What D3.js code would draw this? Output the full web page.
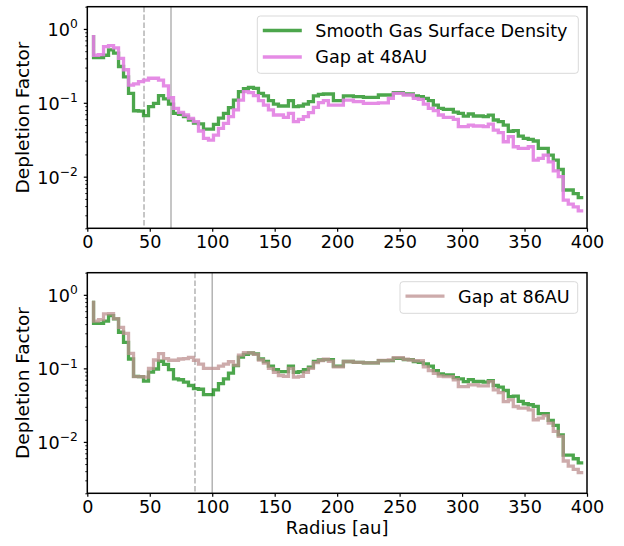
<!DOCTYPE html>
<html>
<head>
<meta charset="utf-8">
<script src="https://cdn.jsdelivr.net/npm/d3@7"></script>
<style>
  body { margin: 0; background: #fff; }
  text { font-family: "DejaVu Sans", sans-serif; fill: #000; }
</style>
</head>
<body>
<div id="chart"></div>
<script>
// radial bin positions [au]
var radius = [5, 9, 13, 17, 21, 25, 29, 33, 37, 41, 45, 49, 53, 57, 61, 65, 69, 73, 77, 81,
  85, 89, 93, 97, 101, 105, 109, 113, 117, 121, 125, 129, 133, 137, 141, 145, 149, 153, 157, 161,
  165, 169, 173, 177, 181, 185, 189, 193, 197, 201, 205, 209, 213, 217, 221, 225, 229, 233, 237, 241,
  245, 249, 253, 257, 261, 265, 269, 273, 277, 281, 285, 289, 293, 297, 301, 305, 309, 313, 317, 321,
  325, 329, 333, 337, 341, 345, 349, 353, 357, 361, 365, 369, 373, 377, 381, 385, 389, 393, 397];

var smooth = [0.83, 0.41, 0.41, 0.44, 0.52, 0.47, 0.31, 0.225, 0.134, 0.078, 0.077, 0.067, 0.089, 0.098, 0.125, 0.113, 0.096, 0.072, 0.070, 0.065,
  0.0585, 0.053, 0.052, 0.044, 0.044, 0.051, 0.062, 0.072, 0.086, 0.109, 0.142, 0.155, 0.162, 0.157, 0.134, 0.124, 0.107, 0.096, 0.0905, 0.0905,
  0.107, 0.0886, 0.0905, 0.096, 0.104, 0.124, 0.130, 0.1316, 0.1316, 0.107, 0.107, 0.124, 0.124, 0.121, 0.121, 0.1186, 0.1186, 0.1186, 0.1276, 0.1276,
  0.1276, 0.137, 0.137, 0.1316, 0.1316, 0.124, 0.121, 0.115, 0.107, 0.0933, 0.0841, 0.0816, 0.0816, 0.075, 0.072, 0.066, 0.0705, 0.0663, 0.0663, 0.0649,
  0.068, 0.0585, 0.0555, 0.050, 0.0412, 0.042, 0.0355, 0.033, 0.032, 0.0304, 0.0242, 0.0242, 0.0196, 0.0168, 0.0125, 0.0066, 0.0066, 0.0059, 0.0052];

var gap48 = [0.83, 0.44, 0.45, 0.575, 0.595, 0.555, 0.40, 0.28, 0.174, 0.18, 0.193, 0.203, 0.215, 0.215, 0.203, 0.17, 0.117, 0.084, 0.0743, 0.0684,
  0.0616, 0.0555, 0.0415, 0.033, 0.0313, 0.0366, 0.045, 0.0527, 0.065, 0.080, 0.109, 0.1416, 0.137, 0.125, 0.107, 0.0933, 0.080, 0.0684, 0.0684, 0.0636,
  0.072, 0.0555, 0.0597, 0.0649, 0.0735, 0.0868, 0.1004, 0.107, 0.0933, 0.0933, 0.0933, 0.109, 0.109, 0.104, 0.104, 0.098, 0.098, 0.098, 0.100, 0.100,
  0.115, 0.134, 0.134, 0.1276, 0.1276, 0.115, 0.1114, 0.096, 0.0841, 0.0782, 0.0684, 0.0636, 0.0636, 0.0597, 0.0475, 0.0475, 0.050, 0.0485, 0.0485, 0.0475,
  0.0516, 0.0428, 0.0394, 0.0297, 0.0348, 0.0254, 0.0242, 0.0242, 0.0254, 0.0168, 0.0177, 0.0196, 0.0159, 0.0120, 0.0100, 0.0048, 0.00425, 0.0039, 0.00345];

var gap86 = [0.83, 0.44, 0.46, 0.55, 0.553, 0.474, 0.36, 0.30, 0.16, 0.077, 0.077, 0.076, 0.10, 0.13, 0.159, 0.136, 0.129, 0.129, 0.134, 0.136,
  0.141, 0.129, 0.114, 0.10, 0.10, 0.10, 0.107, 0.114, 0.123, 0.111, 0.151, 0.163, 0.162, 0.155, 0.13, 0.118, 0.10, 0.088, 0.08, 0.078,
  0.100, 0.076, 0.078, 0.088, 0.10, 0.12, 0.128, 0.133, 0.125, 0.105, 0.105, 0.124, 0.124, 0.121, 0.121, 0.1186, 0.1186, 0.1186, 0.128, 0.128,
  0.13, 0.14, 0.14, 0.133, 0.13, 0.127, 0.127, 0.105, 0.0929, 0.0855, 0.0787, 0.0771, 0.0771, 0.070, 0.0565, 0.0565, 0.0595, 0.0595, 0.0577, 0.0577,
  0.066, 0.0509, 0.0469, 0.0354, 0.0373, 0.0303, 0.0288, 0.0288, 0.0273, 0.020, 0.0211, 0.0227, 0.018, 0.0139, 0.0119, 0.0055, 0.00469, 0.00422, 0.00381];

var xTicks = [0, 50, 100, 150, 200, 250, 300, 350, 400];
var yTicks = [1, 0.1, 0.01];
var yTickExp = ["0", "\u22121", "\u22122"];
var yMinor = [0.002, 0.003, 0.004, 0.005, 0.006, 0.007, 0.008, 0.009,
  0.02, 0.03, 0.04, 0.05, 0.06, 0.07, 0.08, 0.09,
  0.2, 0.3, 0.4, 0.5, 0.6, 0.7, 0.8, 0.9, 2];

var width = 624, height = 546;
var left = 87.3, right = 587;
var fs = 17.6;

var svg = d3.select("#chart").append("svg")
  .attr("width", width)
  .attr("height", height);

var x = d3.scaleLinear().domain([0, 400]).range([left, right]);

function drawPanel(top, bottom, series, vlines, legend) {
  var y = d3.scaleLog().domain([0.002, 2]).range([bottom, top]);
  var g = svg.append("g");

  // vertical marker lines
  vlines.forEach(function(v) {
    g.append("line")
      .attr("x1", x(v.r)).attr("x2", x(v.r))
      .attr("y1", top).attr("y2", bottom)
      .attr("stroke", "#808080")
      .attr("stroke-opacity", 0.6)
      .attr("stroke-width", 1.5)
      .attr("stroke-dasharray", v.dash ? "5.5,2.4" : null);
  });

  var line = d3.line()
    .x(function(d) { return x(d[0]); })
    .y(function(d) { return y(d[1]); })
    .curve(d3.curveStepBefore);

  series.forEach(function(s) {
    g.append("path")
      .datum(d3.zip(radius, s.values))
      .attr("d", line)
      .attr("fill", "none")
      .attr("stroke", s.color)
      .attr("stroke-opacity", s.alpha)
      .attr("stroke-width", 3.3);
  });

  // x axis
  var xa = g.append("g")
    .attr("transform", "translate(0," + bottom + ")")
    .call(d3.axisBottom(x).tickValues(xTicks).tickSize(3.5).tickPadding(3.5));
  xa.select(".domain").remove();
  xa.selectAll("line").attr("stroke", "#000").attr("stroke-width", 1.2);
  xa.selectAll("text").style("font-size", fs + "px").attr("font-family", "DejaVu Sans");

  // y axis major + minor
  var ya = g.append("g")
    .attr("transform", "translate(" + left + ",0)")
    .call(d3.axisLeft(y).tickValues(yTicks).tickSize(3.5).tickFormat(""));
  ya.select(".domain").remove();
  ya.selectAll("line").attr("stroke", "#000").attr("stroke-width", 1.2);

  var ym = g.append("g")
    .attr("transform", "translate(" + left + ",0)")
    .call(d3.axisLeft(y).tickValues(yMinor).tickSize(2).tickFormat(""));
  ym.select(".domain").remove();
  ym.selectAll("line").attr("stroke", "#000").attr("stroke-width", 0.9);

  yTicks.forEach(function(t, i) {
    var tx = g.append("text")
      .attr("x", left - 9.5)
      .attr("y", y(t) + 7)
      .attr("text-anchor", "end")
      .style("font-size", fs + "px");
    tx.append("tspan").text("10");
    tx.append("tspan").attr("dy", -7.5).style("font-size", "12.3px").text(yTickExp[i]);
  });

  // frame
  g.append("rect")
    .attr("x", left).attr("y", top)
    .attr("width", right - left).attr("height", bottom - top)
    .attr("fill", "none")
    .attr("stroke", "#000")
    .attr("stroke-width", 1.5);

  // y label
  g.append("text")
    .attr("transform", "translate(23," + ((top + bottom) / 2) + ") rotate(-90)")
    .attr("text-anchor", "middle")
    .attr("dy", "0.35em")
    .style("font-size", "18.5px")
    .text("Depletion Factor");

  // legend
  var lg = g.append("g");
  lg.append("rect")
    .attr("x", legend.x).attr("y", legend.y)
    .attr("width", legend.w).attr("height", legend.h)
    .attr("rx", 3)
    .attr("fill", "#fff").attr("fill-opacity", 0.8)
    .attr("stroke", "#d9d9d9").attr("stroke-width", 1);
  legend.items.forEach(function(it, i) {
    var ly = legend.y + 14.5 + i * 26.5;
    lg.append("line")
      .attr("x1", legend.x + 5.5).attr("x2", legend.x + 44.5)
      .attr("y1", ly).attr("y2", ly)
      .attr("stroke", it.color).attr("stroke-opacity", it.alpha)
      .attr("stroke-width", 3.3);
    lg.append("text")
      .attr("x", legend.x + 58)
      .attr("y", ly + 6.3)
      .style("font-size", fs + "px")
      .text(it.label);
  });
}

var green = { values: smooth, color: "#008000", alpha: 0.7, label: "Smooth Gas Surface Density" };
var pink = { values: gap48, color: "#e27fe2", alpha: 0.9, label: "Gap at 48AU" };
var brown = { values: gap86, color: "#bc8f8f", alpha: 0.75, label: "Gap at 86AU" };

drawPanel(6.7, 228.3, [green, pink],
  [{ r: 45.4, dash: true }, { r: 67, dash: false }],
  { x: 257.3, y: 16, w: 321, h: 57.3, items: [green, pink] });

drawPanel(272.7, 493.3, [green, brown],
  [{ r: 86.2, dash: true }, { r: 100, dash: false }],
  { x: 400, y: 281.7, w: 177.7, h: 31.6, items: [brown] });

svg.append("text")
  .attr("x", (left + right) / 2)
  .attr("y", 534)
  .attr("text-anchor", "middle")
  .style("font-size", "18px")
  .text("Radius [au]");
</script>
</body>
</html>
